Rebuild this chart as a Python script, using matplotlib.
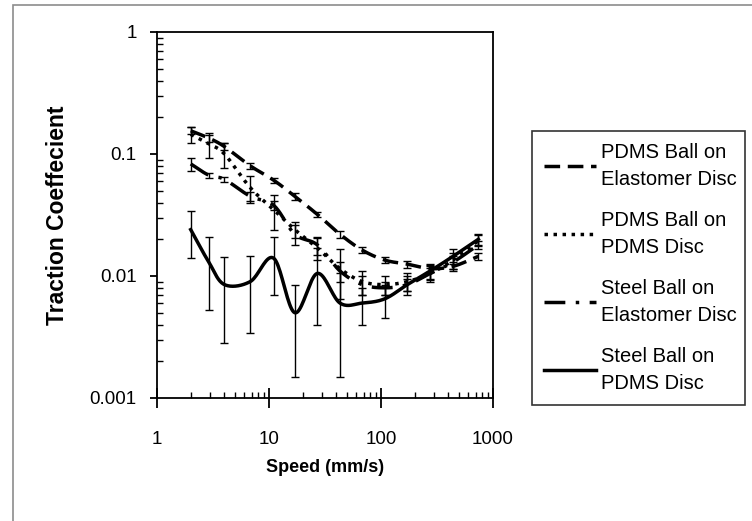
import numpy as np
import matplotlib.pyplot as plt
from matplotlib.patches import Rectangle

plt.rcParams['font.family'] = ['Liberation Sans', 'DejaVu Sans']

# speed (mm/s)
speed = [2, 2.9, 4, 6.8, 11, 17, 27, 43, 68, 108, 172, 275, 440, 740]

# PDMS ball on elastomer disc
pdms_elast = [0.155, 0.135, 0.115, 0.08, 0.061, 0.045, 0.032, 0.022, 0.0163, 0.0135, 0.0125, 0.0115, 0.012, 0.0145]
pdms_elast_err = [0.01, 0.009, 0.008, 0.004, 0.003, 0.003, 0.0015, 0.0016, 0.001, 0.0008, 0.0008, 0.0008, 0.001, 0.001]
# PDMS ball on PDMS disc
pdms_pdms = [0.145, 0.121, 0.1, 0.053, 0.035, 0.024, 0.017, 0.0115, 0.009, 0.0085, 0.009, 0.0105, 0.0135, 0.0195]
pdms_pdms_err = [0.021, 0.028, 0.023, 0.013, 0.011, 0.0035, 0.0035, 0.005, 0.002, 0.0015, 0.0015, 0.0015, 0.002, 0.002]
# steel ball on elastomer disc
steel_elast = [0.083, 0.067, 0.062, 0.045, 0.038, 0.022, 0.018, 0.011, 0.0085, 0.008, 0.0085, 0.0105, 0.013, 0.018]
steel_elast_err = [0.01, 0.003, 0.003, 0.004, 0.003, 0.004, 0.003, 0.002, 0.0015, 0.001, 0.001, 0.0012, 0.0015, 0.0015]
# steel ball on PDMS disc
steel_pdms = [0.024, 0.013, 0.0085, 0.009, 0.014, 0.005, 0.0105, 0.006, 0.006, 0.0065, 0.0085, 0.011, 0.0145, 0.02]
steel_pdms_err = [0.01, 0.0077, 0.0057, 0.0056, 0.007, 0.0035, 0.0065, 0.0045, 0.002, 0.002, 0.0015, 0.0015, 0.002, 0.002]

labels = ['PDMS Ball on\nElastomer Disc', 'PDMS Ball on\nPDMS Disc',
          'Steel Ball on\nElastomer Disc', 'Steel Ball on\nPDMS Disc']


def smooth(x, y, n=20):
    # catmull-rom through the points in log-log space (like excel smoothed lines)
    lx = np.log10(x); ly = np.log10(y)
    px = np.concatenate([[2*lx[0]-lx[1]], lx, [2*lx[-1]-lx[-2]]])
    py = np.concatenate([[2*ly[0]-ly[1]], ly, [2*ly[-1]-ly[-2]]])
    outx, outy = [], []
    t = np.linspace(0, 1, n, endpoint=False)
    for i in range(1, len(px)-2):
        for p, o in ((px, outx), (py, outy)):
            p0, p1, p2, p3 = p[i-1], p[i], p[i+1], p[i+2]
            o.extend(0.5*((2*p1) + (-p0+p2)*t + (2*p0-5*p1+4*p2-p3)*t**2 + (-p0+3*p1-3*p2+p3)*t**3))
    outx.append(lx[-1]); outy.append(ly[-1])
    return 10**np.array(outx), 10**np.array(outy)


fig = plt.figure(figsize=(7.52, 5.21), dpi=100)
fig.patches.append(Rectangle((13/752, -0.05), 1.1, 1 - 5/521 + 0.05, transform=fig.transFigure,
                             fill=False, edgecolor='#8c8c8c', linewidth=1.2))
ax = fig.add_axes([157/752, 1-398/521, 336/752, 366/521])

styles = [(0, (4.5, 2.2)), (0, (1, 1.6)), (0, (6, 3, 1, 3)), '-']
series = [(pdms_elast, pdms_elast_err), (pdms_pdms, pdms_pdms_err),
          (steel_elast, steel_elast_err), (steel_pdms, steel_pdms_err)]

for (vals, errs), ls, lab in zip(series, styles, labels):
    ax.errorbar(speed, vals, yerr=errs, fmt='none', ecolor='black', elinewidth=1,
                capsize=3.2, capthick=1)
    sx, sy = smooth(speed, vals)
    ax.plot(sx, sy, color='black', linestyle=ls, linewidth=2.5, label=lab)

ax.set_xscale('log')
ax.set_yscale('log')
ax.set_xlim(1, 1000)
ax.set_ylim(0.001, 1)
ax.set_xticks([1, 10, 100, 1000])
ax.set_xticklabels(['1', '10', '100', '1000'])
ax.set_yticks([0.001, 0.01, 0.1, 1])
ax.set_yticklabels(['0.001', '0.01', '0.1', '1'])
ax.tick_params(axis='x', which='major', direction='inout', length=14, width=1.3,
               labelsize=13.5, pad=17)
ax.tick_params(axis='y', which='major', direction='out', length=5, width=1.3,
               labelsize=13.5, pad=9.5)
ax.tick_params(which='minor', direction='in', length=4, width=1)
ax.tick_params(top=False, right=False, which='both')
for s in ax.spines.values():
    s.set_linewidth(1.3)

ax.set_xlabel('Speed (mm/s)', fontsize=13, fontweight='bold', labelpad=8)
ax.set_ylabel('Traction Coeffecient', fontsize=16.5, fontweight='bold', labelpad=15)

leg = ax.legend(loc='upper left', bbox_to_anchor=(532/752, 1-131/521, 213/752, 0.0),
                bbox_transform=fig.transFigure, mode='expand', frameon=True, fancybox=False,
                fontsize=14.5, handlelength=2.6, labelspacing=1.12, borderpad=0.6,
                handletextpad=0.25, borderaxespad=0)
for t in leg.get_texts():
    t.set_linespacing(1.5)
leg.get_frame().set_edgecolor('black')
leg.get_frame().set_linewidth(1.2)

plt.savefig('out.png', dpi=100)
